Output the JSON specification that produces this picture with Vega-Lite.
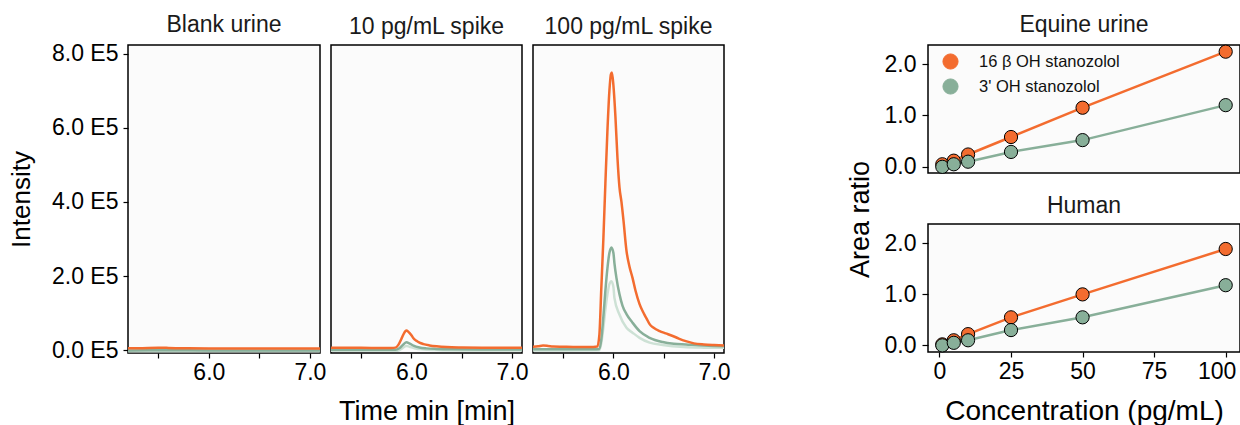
{
  "$schema": "https://vega.github.io/schema/vega-lite/v6.json",
  "background": "white",
  "padding": {"left": 7, "top": 13, "right": 0, "bottom": 0},
  "datasets": {
    "chrom": [
      {"p": "Blank urine", "s": "q", "t": 5.2, "i": -3000},
      {"p": "Blank urine", "s": "q", "t": 5.6, "i": -3000},
      {"p": "Blank urine", "s": "q", "t": 6.0, "i": -3000},
      {"p": "Blank urine", "s": "q", "t": 6.4, "i": -3000},
      {"p": "Blank urine", "s": "q", "t": 6.8, "i": -3000},
      {"p": "Blank urine", "s": "q", "t": 7.1, "i": -3000},
      {"p": "Blank urine", "s": "3p", "t": 5.2, "i": -1000},
      {"p": "Blank urine", "s": "3p", "t": 5.6, "i": -800},
      {"p": "Blank urine", "s": "3p", "t": 6.0, "i": -1000},
      {"p": "Blank urine", "s": "3p", "t": 6.4, "i": -1000},
      {"p": "Blank urine", "s": "3p", "t": 6.8, "i": -1000},
      {"p": "Blank urine", "s": "3p", "t": 7.1, "i": -1000},
      {"p": "Blank urine", "s": "16b", "t": 5.2, "i": 4500},
      {"p": "Blank urine", "s": "16b", "t": 5.3, "i": 4800},
      {"p": "Blank urine", "s": "16b", "t": 5.4, "i": 5200},
      {"p": "Blank urine", "s": "16b", "t": 5.5, "i": 6000},
      {"p": "Blank urine", "s": "16b", "t": 5.55, "i": 6500},
      {"p": "Blank urine", "s": "16b", "t": 5.6, "i": 5600},
      {"p": "Blank urine", "s": "16b", "t": 5.7, "i": 5000},
      {"p": "Blank urine", "s": "16b", "t": 5.8, "i": 4600},
      {"p": "Blank urine", "s": "16b", "t": 6.0, "i": 4200},
      {"p": "Blank urine", "s": "16b", "t": 6.2, "i": 4000},
      {"p": "Blank urine", "s": "16b", "t": 6.4, "i": 4000},
      {"p": "Blank urine", "s": "16b", "t": 6.6, "i": 4200},
      {"p": "Blank urine", "s": "16b", "t": 6.8, "i": 4200},
      {"p": "Blank urine", "s": "16b", "t": 7.0, "i": 4300},
      {"p": "Blank urine", "s": "16b", "t": 7.1, "i": 4300},

      {"p": "10 pg/mL spike", "s": "q", "t": 5.2, "i": -2000},
      {"p": "10 pg/mL spike", "s": "q", "t": 5.5, "i": -2000},
      {"p": "10 pg/mL spike", "s": "q", "t": 5.86, "i": -2000},
      {"p": "10 pg/mL spike", "s": "q", "t": 5.9, "i": 3000},
      {"p": "10 pg/mL spike", "s": "q", "t": 5.95, "i": 11000},
      {"p": "10 pg/mL spike", "s": "q", "t": 5.98, "i": 9000},
      {"p": "10 pg/mL spike", "s": "q", "t": 6.03, "i": 5000},
      {"p": "10 pg/mL spike", "s": "q", "t": 6.1, "i": 2000},
      {"p": "10 pg/mL spike", "s": "q", "t": 6.25, "i": 0},
      {"p": "10 pg/mL spike", "s": "q", "t": 6.5, "i": -1000},
      {"p": "10 pg/mL spike", "s": "q", "t": 7.1, "i": -1500},
      {"p": "10 pg/mL spike", "s": "3p", "t": 5.2, "i": 800},
      {"p": "10 pg/mL spike", "s": "3p", "t": 5.5, "i": 800},
      {"p": "10 pg/mL spike", "s": "3p", "t": 5.84, "i": 800},
      {"p": "10 pg/mL spike", "s": "3p", "t": 5.88, "i": 5000},
      {"p": "10 pg/mL spike", "s": "3p", "t": 5.92, "i": 15000},
      {"p": "10 pg/mL spike", "s": "3p", "t": 5.95, "i": 21000},
      {"p": "10 pg/mL spike", "s": "3p", "t": 5.98, "i": 18000},
      {"p": "10 pg/mL spike", "s": "3p", "t": 6.02, "i": 12000},
      {"p": "10 pg/mL spike", "s": "3p", "t": 6.08, "i": 7000},
      {"p": "10 pg/mL spike", "s": "3p", "t": 6.15, "i": 4500},
      {"p": "10 pg/mL spike", "s": "3p", "t": 6.25, "i": 3000},
      {"p": "10 pg/mL spike", "s": "3p", "t": 6.4, "i": 2000},
      {"p": "10 pg/mL spike", "s": "3p", "t": 6.7, "i": 1500},
      {"p": "10 pg/mL spike", "s": "3p", "t": 7.1, "i": 1200},
      {"p": "10 pg/mL spike", "s": "16b", "t": 5.2, "i": 6000},
      {"p": "10 pg/mL spike", "s": "16b", "t": 5.4, "i": 6000},
      {"p": "10 pg/mL spike", "s": "16b", "t": 5.6, "i": 5800},
      {"p": "10 pg/mL spike", "s": "16b", "t": 5.8, "i": 5800},
      {"p": "10 pg/mL spike", "s": "16b", "t": 5.84, "i": 6500},
      {"p": "10 pg/mL spike", "s": "16b", "t": 5.87, "i": 14000},
      {"p": "10 pg/mL spike", "s": "16b", "t": 5.9, "i": 30000},
      {"p": "10 pg/mL spike", "s": "16b", "t": 5.92, "i": 42000},
      {"p": "10 pg/mL spike", "s": "16b", "t": 5.94, "i": 51000},
      {"p": "10 pg/mL spike", "s": "16b", "t": 5.95, "i": 53000},
      {"p": "10 pg/mL spike", "s": "16b", "t": 5.97, "i": 49000},
      {"p": "10 pg/mL spike", "s": "16b", "t": 6.0, "i": 40000},
      {"p": "10 pg/mL spike", "s": "16b", "t": 6.02, "i": 32000},
      {"p": "10 pg/mL spike", "s": "16b", "t": 6.05, "i": 25000},
      {"p": "10 pg/mL spike", "s": "16b", "t": 6.08, "i": 20000},
      {"p": "10 pg/mL spike", "s": "16b", "t": 6.12, "i": 16000},
      {"p": "10 pg/mL spike", "s": "16b", "t": 6.18, "i": 12500},
      {"p": "10 pg/mL spike", "s": "16b", "t": 6.25, "i": 10000},
      {"p": "10 pg/mL spike", "s": "16b", "t": 6.35, "i": 8000},
      {"p": "10 pg/mL spike", "s": "16b", "t": 6.5, "i": 7000},
      {"p": "10 pg/mL spike", "s": "16b", "t": 6.7, "i": 6500},
      {"p": "10 pg/mL spike", "s": "16b", "t": 6.9, "i": 6200},
      {"p": "10 pg/mL spike", "s": "16b", "t": 7.1, "i": 6000},

      {"p": "100 pg/mL spike", "s": "q", "t": 5.2, "i": -1000},
      {"p": "100 pg/mL spike", "s": "q", "t": 5.5, "i": -1000},
      {"p": "100 pg/mL spike", "s": "q", "t": 5.86, "i": -500},
      {"p": "100 pg/mL spike", "s": "q", "t": 5.88, "i": 20000},
      {"p": "100 pg/mL spike", "s": "q", "t": 5.9, "i": 60000},
      {"p": "100 pg/mL spike", "s": "q", "t": 5.92, "i": 110000},
      {"p": "100 pg/mL spike", "s": "q", "t": 5.94, "i": 150000},
      {"p": "100 pg/mL spike", "s": "q", "t": 5.96, "i": 178000},
      {"p": "100 pg/mL spike", "s": "q", "t": 5.98, "i": 186000},
      {"p": "100 pg/mL spike", "s": "q", "t": 6.0, "i": 170000},
      {"p": "100 pg/mL spike", "s": "q", "t": 6.01, "i": 141000},
      {"p": "100 pg/mL spike", "s": "q", "t": 6.06, "i": 96000},
      {"p": "100 pg/mL spike", "s": "q", "t": 6.13, "i": 60000},
      {"p": "100 pg/mL spike", "s": "q", "t": 6.19, "i": 47000},
      {"p": "100 pg/mL spike", "s": "q", "t": 6.26, "i": 33000},
      {"p": "100 pg/mL spike", "s": "q", "t": 6.36, "i": 20000},
      {"p": "100 pg/mL spike", "s": "q", "t": 6.49, "i": 13500},
      {"p": "100 pg/mL spike", "s": "q", "t": 6.7, "i": 8000},
      {"p": "100 pg/mL spike", "s": "q", "t": 6.9, "i": 6500},
      {"p": "100 pg/mL spike", "s": "q", "t": 7.1, "i": 6000},
      {"p": "100 pg/mL spike", "s": "3p", "t": 5.2, "i": 2000},
      {"p": "100 pg/mL spike", "s": "3p", "t": 5.5, "i": 2000},
      {"p": "100 pg/mL spike", "s": "3p", "t": 5.8, "i": 2000},
      {"p": "100 pg/mL spike", "s": "3p", "t": 5.86, "i": 3000},
      {"p": "100 pg/mL spike", "s": "3p", "t": 5.88, "i": 30000},
      {"p": "100 pg/mL spike", "s": "3p", "t": 5.9, "i": 90000},
      {"p": "100 pg/mL spike", "s": "3p", "t": 5.92, "i": 160000},
      {"p": "100 pg/mL spike", "s": "3p", "t": 5.94, "i": 220000},
      {"p": "100 pg/mL spike", "s": "3p", "t": 5.96, "i": 262000},
      {"p": "100 pg/mL spike", "s": "3p", "t": 5.98, "i": 277000},
      {"p": "100 pg/mL spike", "s": "3p", "t": 6.0, "i": 262000},
      {"p": "100 pg/mL spike", "s": "3p", "t": 6.01, "i": 235000},
      {"p": "100 pg/mL spike", "s": "3p", "t": 6.03, "i": 195000},
      {"p": "100 pg/mL spike", "s": "3p", "t": 6.06, "i": 151000},
      {"p": "100 pg/mL spike", "s": "3p", "t": 6.09, "i": 120000},
      {"p": "100 pg/mL spike", "s": "3p", "t": 6.13, "i": 97000},
      {"p": "100 pg/mL spike", "s": "3p", "t": 6.19, "i": 74000},
      {"p": "100 pg/mL spike", "s": "3p", "t": 6.26, "i": 51000},
      {"p": "100 pg/mL spike", "s": "3p", "t": 6.36, "i": 33000},
      {"p": "100 pg/mL spike", "s": "3p", "t": 6.49, "i": 21600},
      {"p": "100 pg/mL spike", "s": "3p", "t": 6.6, "i": 17000},
      {"p": "100 pg/mL spike", "s": "3p", "t": 6.72, "i": 15000},
      {"p": "100 pg/mL spike", "s": "3p", "t": 6.9, "i": 12000},
      {"p": "100 pg/mL spike", "s": "3p", "t": 7.0, "i": 11000},
      {"p": "100 pg/mL spike", "s": "3p", "t": 7.1, "i": 10500},
      {"p": "100 pg/mL spike", "s": "16b", "t": 5.2, "i": 9000},
      {"p": "100 pg/mL spike", "s": "16b", "t": 5.25, "i": 10000},
      {"p": "100 pg/mL spike", "s": "16b", "t": 5.3, "i": 12000},
      {"p": "100 pg/mL spike", "s": "16b", "t": 5.35, "i": 11000},
      {"p": "100 pg/mL spike", "s": "16b", "t": 5.4, "i": 9500},
      {"p": "100 pg/mL spike", "s": "16b", "t": 5.5, "i": 9000},
      {"p": "100 pg/mL spike", "s": "16b", "t": 5.6, "i": 8500},
      {"p": "100 pg/mL spike", "s": "16b", "t": 5.7, "i": 8500},
      {"p": "100 pg/mL spike", "s": "16b", "t": 5.8, "i": 8500},
      {"p": "100 pg/mL spike", "s": "16b", "t": 5.84, "i": 9500},
      {"p": "100 pg/mL spike", "s": "16b", "t": 5.86, "i": 40000},
      {"p": "100 pg/mL spike", "s": "16b", "t": 5.88, "i": 170000},
      {"p": "100 pg/mL spike", "s": "16b", "t": 5.9, "i": 300000},
      {"p": "100 pg/mL spike", "s": "16b", "t": 5.92, "i": 450000},
      {"p": "100 pg/mL spike", "s": "16b", "t": 5.94, "i": 590000},
      {"p": "100 pg/mL spike", "s": "16b", "t": 5.96, "i": 700000},
      {"p": "100 pg/mL spike", "s": "16b", "t": 5.975, "i": 745000},
      {"p": "100 pg/mL spike", "s": "16b", "t": 5.985, "i": 750000},
      {"p": "100 pg/mL spike", "s": "16b", "t": 6.0, "i": 715000},
      {"p": "100 pg/mL spike", "s": "16b", "t": 6.02, "i": 630000},
      {"p": "100 pg/mL spike", "s": "16b", "t": 6.04, "i": 520000},
      {"p": "100 pg/mL spike", "s": "16b", "t": 6.06, "i": 440000},
      {"p": "100 pg/mL spike", "s": "16b", "t": 6.08, "i": 400000},
      {"p": "100 pg/mL spike", "s": "16b", "t": 6.1, "i": 350000},
      {"p": "100 pg/mL spike", "s": "16b", "t": 6.13, "i": 268000},
      {"p": "100 pg/mL spike", "s": "16b", "t": 6.16, "i": 225000},
      {"p": "100 pg/mL spike", "s": "16b", "t": 6.19, "i": 195000},
      {"p": "100 pg/mL spike", "s": "16b", "t": 6.22, "i": 160000},
      {"p": "100 pg/mL spike", "s": "16b", "t": 6.26, "i": 124000},
      {"p": "100 pg/mL spike", "s": "16b", "t": 6.3, "i": 100000},
      {"p": "100 pg/mL spike", "s": "16b", "t": 6.33, "i": 85000},
      {"p": "100 pg/mL spike", "s": "16b", "t": 6.36, "i": 70000},
      {"p": "100 pg/mL spike", "s": "16b", "t": 6.4, "i": 60000},
      {"p": "100 pg/mL spike", "s": "16b", "t": 6.46, "i": 51000},
      {"p": "100 pg/mL spike", "s": "16b", "t": 6.52, "i": 45000},
      {"p": "100 pg/mL spike", "s": "16b", "t": 6.59, "i": 38000},
      {"p": "100 pg/mL spike", "s": "16b", "t": 6.65, "i": 31000},
      {"p": "100 pg/mL spike", "s": "16b", "t": 6.72, "i": 24000},
      {"p": "100 pg/mL spike", "s": "16b", "t": 6.8, "i": 18000},
      {"p": "100 pg/mL spike", "s": "16b", "t": 6.9, "i": 15000},
      {"p": "100 pg/mL spike", "s": "16b", "t": 7.0, "i": 13500},
      {"p": "100 pg/mL spike", "s": "16b", "t": 7.1, "i": 12500}
    ],
    "calib": [
      {"matrix": "Equine urine", "analyte": "16 β OH stanozolol", "conc": 1, "ratio": 0.05},
      {"matrix": "Equine urine", "analyte": "16 β OH stanozolol", "conc": 5, "ratio": 0.12},
      {"matrix": "Equine urine", "analyte": "16 β OH stanozolol", "conc": 10, "ratio": 0.24},
      {"matrix": "Equine urine", "analyte": "16 β OH stanozolol", "conc": 25, "ratio": 0.58},
      {"matrix": "Equine urine", "analyte": "16 β OH stanozolol", "conc": 50, "ratio": 1.15},
      {"matrix": "Equine urine", "analyte": "16 β OH stanozolol", "conc": 100, "ratio": 2.24},
      {"matrix": "Equine urine", "analyte": "3' OH stanozolol", "conc": 1, "ratio": 0.0},
      {"matrix": "Equine urine", "analyte": "3' OH stanozolol", "conc": 5, "ratio": 0.05},
      {"matrix": "Equine urine", "analyte": "3' OH stanozolol", "conc": 10, "ratio": 0.1},
      {"matrix": "Equine urine", "analyte": "3' OH stanozolol", "conc": 25, "ratio": 0.29},
      {"matrix": "Equine urine", "analyte": "3' OH stanozolol", "conc": 50, "ratio": 0.52},
      {"matrix": "Equine urine", "analyte": "3' OH stanozolol", "conc": 100, "ratio": 1.2},
      {"matrix": "Human", "analyte": "16 β OH stanozolol", "conc": 1, "ratio": 0.02},
      {"matrix": "Human", "analyte": "16 β OH stanozolol", "conc": 5, "ratio": 0.1},
      {"matrix": "Human", "analyte": "16 β OH stanozolol", "conc": 10, "ratio": 0.22},
      {"matrix": "Human", "analyte": "16 β OH stanozolol", "conc": 25, "ratio": 0.55},
      {"matrix": "Human", "analyte": "16 β OH stanozolol", "conc": 50, "ratio": 1.0},
      {"matrix": "Human", "analyte": "16 β OH stanozolol", "conc": 100, "ratio": 1.89},
      {"matrix": "Human", "analyte": "3' OH stanozolol", "conc": 1, "ratio": 0.0},
      {"matrix": "Human", "analyte": "3' OH stanozolol", "conc": 5, "ratio": 0.05},
      {"matrix": "Human", "analyte": "3' OH stanozolol", "conc": 10, "ratio": 0.1},
      {"matrix": "Human", "analyte": "3' OH stanozolol", "conc": 25, "ratio": 0.3},
      {"matrix": "Human", "analyte": "3' OH stanozolol", "conc": 50, "ratio": 0.55},
      {"matrix": "Human", "analyte": "3' OH stanozolol", "conc": 100, "ratio": 1.18}
    ]
  },
  "hconcat": [
    {
      "spacing": 11,
      "bounds": "flush",
      "hconcat": [
        {
          "data": {"name": "chrom"},
          "transform": [{"filter": "datum.p == 'Blank urine'"}],
          "title": {"text": "Blank urine"},
          "width": 192, "height": 308,
          "mark": {"type": "line", "strokeWidth": 2.5, "interpolate": "monotone", "clip": true},
          "encoding": {
            "x": {"field": "t", "type": "quantitative", "scale": {"domain": [5.2, 7.1], "nice": false, "zero": false},
                  "axis": {"title": null, "values": [5.5, 6, 6.5, 7], "labelExpr": "datum.value == 6 || datum.value == 7 ? format(datum.value, '.1f') : ''", "labelFlush": false, "labelOverlap": false}},
            "y": {"field": "i", "type": "quantitative", "scale": {"domain": [-8000, 824000], "nice": false, "zero": false},
                  "axis": {"title": "Intensity", "values": [0, 200000, 400000, 600000, 800000], "labelExpr": "format(datum.value / 100000, '.1f') + ' E5'", "labelPadding": 5, "titlePadding": 17, "titleFontSize": 26}},
            "color": {"field": "s", "type": "nominal", "scale": {"domain": ["q", "3p", "16b"], "range": ["#CDE1D5", "#88AF99", "#F36C2F"]}, "legend": null}
          }
        },
        {
          "data": {"name": "chrom"},
          "transform": [{"filter": "datum.p == '10 pg/mL spike'"}],
          "title": {"text": "10 pg/mL spike"},
          "width": 191, "height": 308,
          "mark": {"type": "line", "strokeWidth": 2.5, "interpolate": "monotone", "clip": true},
          "encoding": {
            "x": {"field": "t", "type": "quantitative", "scale": {"domain": [5.2, 7.1], "nice": false, "zero": false},
                  "axis": {"title": "Time min [min]", "titlePadding": 14, "values": [5.5, 6, 6.5, 7], "labelExpr": "datum.value == 6 || datum.value == 7 ? format(datum.value, '.1f') : ''", "labelFlush": false, "labelOverlap": false}},
            "y": {"field": "i", "type": "quantitative", "scale": {"domain": [-8000, 824000], "nice": false, "zero": false}, "axis": null},
            "color": {"field": "s", "type": "nominal", "scale": {"domain": ["q", "3p", "16b"], "range": ["#CDE1D5", "#88AF99", "#F36C2F"]}, "legend": null}
          }
        },
        {
          "data": {"name": "chrom"},
          "transform": [{"filter": "datum.p == '100 pg/mL spike'"}],
          "title": {"text": "100 pg/mL spike"},
          "width": 191, "height": 308,
          "mark": {"type": "line", "strokeWidth": 2.5, "interpolate": "monotone", "clip": true},
          "encoding": {
            "x": {"field": "t", "type": "quantitative", "scale": {"domain": [5.2, 7.1], "nice": false, "zero": false},
                  "axis": {"title": null, "values": [5.5, 6, 6.5, 7], "labelExpr": "datum.value == 6 || datum.value == 7 ? format(datum.value, '.1f') : ''", "labelFlush": false, "labelOverlap": false}},
            "y": {"field": "i", "type": "quantitative", "scale": {"domain": [-8000, 824000], "nice": false, "zero": false}, "axis": null},
            "color": {"field": "s", "type": "nominal", "scale": {"domain": ["q", "3p", "16b"], "range": ["#CDE1D5", "#88AF99", "#F36C2F"]}, "legend": null}
          }
        }
      ]
    },
    {
      "spacing": 51,
      "bounds": "flush",
      "title": {"text": "Area ratio", "orient": "left", "anchor": "middle", "fontSize": 27, "color": "#000", "offset": 8},
      "resolve": {"scale": {"color": "independent"}, "legend": {"color": "independent"}},
      "vconcat": [
        {
          "data": {"name": "calib"},
          "transform": [{"filter": "datum.matrix == 'Equine urine'"}],
          "title": {"text": "Equine urine"},
          "width": 312, "height": 128,
          "encoding": {
            "x": {"field": "conc", "type": "quantitative", "scale": {"domain": [-4, 105], "nice": false, "zero": false}, "axis": null},
            "y": {"field": "ratio", "type": "quantitative", "scale": {"domain": [-0.12, 2.37], "nice": false, "zero": false},
                  "axis": {"title": null, "values": [0, 1, 2], "format": ".1f", "labelFontSize": 23, "tickSize": 6, "labelPadding": 6}},
            "color": {"field": "analyte", "type": "nominal", "scale": {"domain": ["16 β OH stanozolol", "3' OH stanozolol"], "range": ["#F36C2F", "#88AF99"]},
                "legend": {"orient": "none", "legendX": 14, "legendY": 8, "title": null, "padding": 0, "labelFontSize": 16.5, "labelFont": "Liberation Sans", "labelColor": "#111", "symbolSize": 230, "symbolType": "circle", "symbolStrokeColor": "#000", "symbolStrokeWidth": 1, "labelOffset": 20, "rowPadding": 4, "symbolOpacity": 1,
                  "encode": {"symbols": {"update": {"stroke": {"value": "#000"}, "strokeWidth": {"value": 1}}}}}}
          },
          "layer": [
            {"mark": {"type": "line", "strokeWidth": 2.5}},
            {"mark": {"type": "point", "filled": true, "shape": "circle", "size": 175, "stroke": "#000", "strokeWidth": 1, "opacity": 1}}
          ]
        },
        {
          "data": {"name": "calib"},
          "transform": [{"filter": "datum.matrix == 'Human'"}],
          "title": {"text": "Human"},
          "width": 312, "height": 128,
          "encoding": {
            "x": {"field": "conc", "type": "quantitative", "scale": {"domain": [-4, 105], "nice": false, "zero": false},
                  "axis": {"title": "Concentration (pg/mL)", "titleFontSize": 28, "titlePadding": 14, "values": [0, 25, 50, 75, 100], "labelFontSize": 23, "labelFlush": false,
                           "labelOffset": {"condition": {"test": "datum.value == 100", "value": -9}, "value": 0}}},
            "y": {"field": "ratio", "type": "quantitative", "scale": {"domain": [-0.13, 2.38], "nice": false, "zero": false},
                  "axis": {"title": null, "values": [0, 1, 2], "format": ".1f", "labelFontSize": 23, "tickSize": 6, "labelPadding": 6}},
            "color": {"field": "analyte", "type": "nominal", "scale": {"domain": ["16 β OH stanozolol", "3' OH stanozolol"], "range": ["#F36C2F", "#88AF99"]}, "legend": null}
          },
          "layer": [
            {"mark": {"type": "line", "strokeWidth": 2.5}},
            {"mark": {"type": "point", "filled": true, "shape": "circle", "size": 175, "stroke": "#000", "strokeWidth": 1, "opacity": 1}}
          ]
        }
      ]
    }
  ],
  "spacing": 116,
  "resolve": {"scale": {"color": "independent"}, "legend": {"color": "independent"}},
  "config": {
    "font": "Liberation Sans",
    "view": {"stroke": "#000", "strokeWidth": 1.5, "fill": "#fbfbfb"},
    "title": {"font": "Liberation Sans", "fontSize": 23, "fontWeight": "normal", "color": "#1a1a1a", "offset": 6},
    "axis": {"domain": false, "grid": false, "ticks": true, "tickColor": "#000", "tickWidth": 1.2, "tickSize": 5,
             "labelFont": "Liberation Sans", "labelFontSize": 23, "labelColor": "#000", "labelPadding": 3,
             "titleFont": "Liberation Sans", "titleFontSize": 27, "titleFontWeight": "normal", "titleColor": "#000"}
  }
}
